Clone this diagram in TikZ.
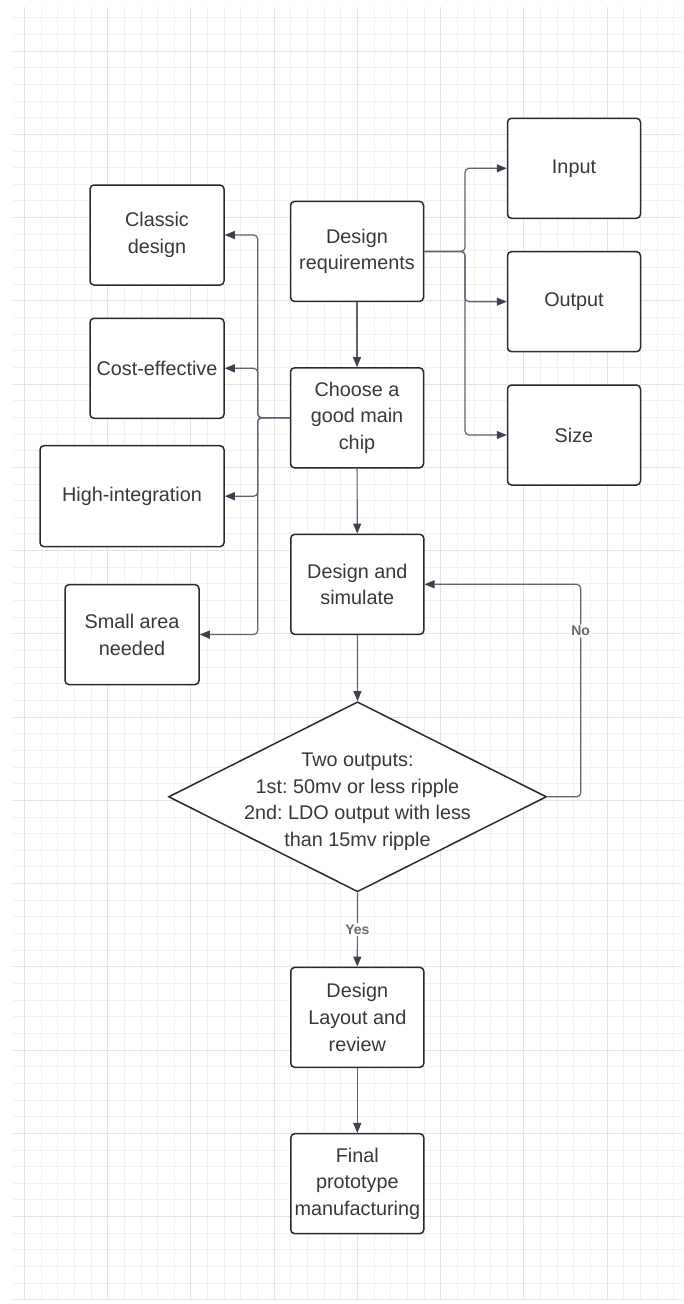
\documentclass[tikz,border=0pt]{standalone}
\usepackage{fontspec}
\setmainfont{Liberation Sans}
\usetikzlibrary{arrows.meta,shapes.geometric,calc}
\definecolor{boxc}{HTML}{2A2A2A}
\definecolor{linec}{HTML}{5C6473}
\definecolor{tipc}{HTML}{3A4250}
\definecolor{txtc}{HTML}{383838}
\definecolor{lblc}{HTML}{6A6A6A}
\definecolor{gridminor}{HTML}{F0F0F0}
\definecolor{gridmajor}{HTML}{E3E3E3}
\frenchspacing
\begin{document}
\begin{tikzpicture}[x=1pt,y=-1pt,
  box/.style={draw=boxc, line width=1.5pt, rounded corners=4pt, fill=white, text=txtc,
    align=center, font=\fontsize{19.8}{26.7}\selectfont,
    minimum width=133pt, minimum height=100pt, inner sep=0pt},
  dec/.style={draw=boxc, line width=1.5pt, diamond, fill=white,
    minimum width=378pt, minimum height=190pt, inner sep=0pt},
  conn/.style={draw=linec, line width=1.2pt, rounded corners=4pt,
    -{Triangle[length=10pt,width=8pt,color=tipc]}},
  lbl/.style={font=\fontsize{14}{16}\selectfont\bfseries, text=lblc, fill=white, inner sep=1.5pt},
  gmin/.style={draw=gridminor, line width=0.8pt},
  gmaj/.style={draw=gridmajor, line width=0.9pt}]
\useasboundingbox (0,0) rectangle (683,1304);
% background grid
\foreach \i in {0,...,39} {\draw[gmin] ({24.35+16.65*\i},7.3) -- ({24.35+16.65*\i},1299.5);}
\foreach \j in {0,...,77} {\draw[gmin] (13,{17.7+16.65*\j}) -- (683,{17.7+16.65*\j});}
\foreach \i in {0,...,7} {\draw[gmaj] ({24.35+83.25*\i},7.3) -- ({24.35+83.25*\i},1299.5);}
\foreach \j in {0,...,15} {\draw[gmaj] (13,{51+83.25*\j}) -- (683,{51+83.25*\j});}

% main column
\node[box] (req) at (357,251.4) {Design\\requirements};
\node[box] (chip) at (357,417.8) {Choose a\\good main\\chip};
\node[box] (sim) at (357.3,584.3) {Design and\\simulate};
\node[dec] (dia) at (357.5,796.8) {};
\node[text=txtc, align=center, font=\fontsize{19.8}{26.7}\selectfont] (diatext) at ($(dia.center)+(0,5)$)
  {Two outputs:\\1st: 50mv or less ripple\\2nd: LDO output with less\\than 15mv ripple};
\node[box] (lay) at (357.3,1017.3) {Design\\Layout and\\review};
\node[box] (fin) at (357.3,1183.7) {Final\\prototype\\manufacturing};

% right column
\node[box] (in) at (574,168.3) {Input};
\node[box] (out) at (574,301.7) {Output};
\node[box] (sz) at (574,435) {Size};

% left column
\node[box, minimum width=134pt] (cl) at (157,235) {Classic\\design};
\node[box, minimum width=134pt] (ce) at (157,368.3) {Cost-effective};
\node[box, minimum width=184pt, minimum height=101pt] (hi) at (132,496.2) {High-integration};
\node[box, minimum width=134pt] (sa) at (132,634.6) {Small area\\needed};

% junction points
\coordinate (rj) at (465,251.4);
\coordinate (lj) at (257.7,417.8);
\coordinate (nr) at (580.7,584.3);

% connectors
\draw[conn] (req) -- (chip);
\draw[conn] (chip) -- (sim);
\draw[conn] (sim) -- (dia.north);
\draw[conn] (dia.south) -- node[lbl, pos=0.5] {Yes} (lay.north);
\draw[conn] (lay) -- (fin);
\draw[conn] (dia.east) -| node[lbl, pos=0.89] {No} (nr) -- (sim.east);

\draw[conn] (req.east) -- (rj) |- (in.west);
\draw[conn] (req.east) -- (rj) |- (out.west);
\draw[conn] (req.east) -- (rj) |- (sz.west);

\draw[conn] (chip.west) -- (lj) |- (cl.east);
\draw[conn] (chip.west) -- (lj) |- (ce.east);
\draw[conn] (chip.west) -- (lj) |- (hi.east);
\draw[conn] (chip.west) -- (lj) |- (sa.east);
\end{tikzpicture}
\end{document}
